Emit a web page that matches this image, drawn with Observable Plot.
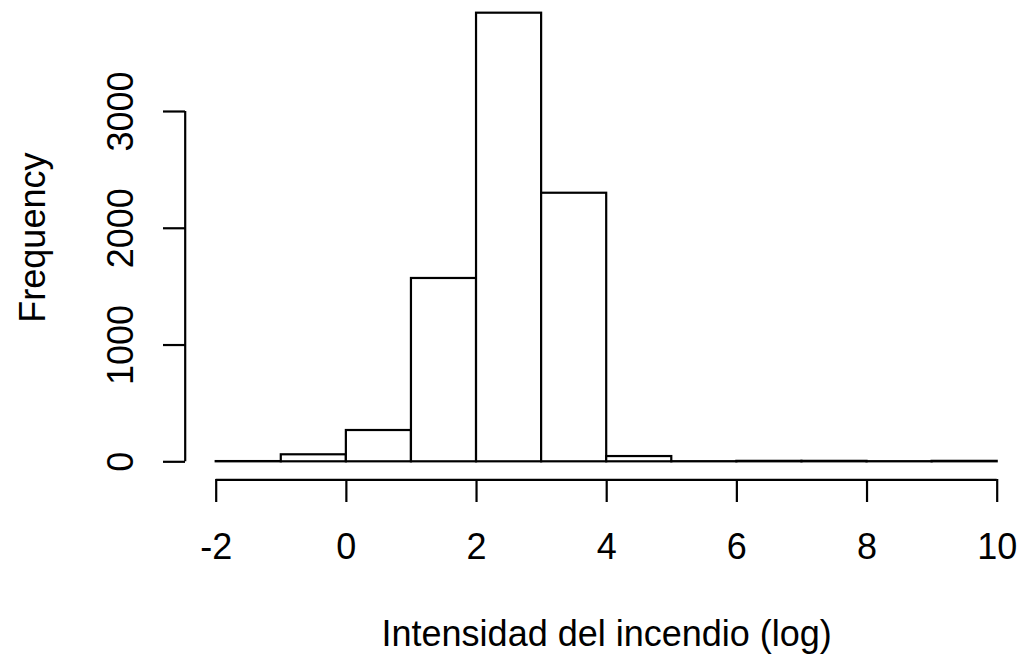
<!DOCTYPE html>
<html>
<head>
<meta charset="utf-8">
<script src="https://cdn.jsdelivr.net/npm/d3@7"></script>
<script src="https://cdn.jsdelivr.net/npm/@observablehq/plot@0.6"></script>
<style>
  html, body { margin: 0; padding: 0; background: #ffffff; }
  #chart svg { display: block; overflow: visible; }
</style>
</head>
<body>
<div id="chart"></div>
<script>
// Histogram bins (log fire intensity) and counts
const binStarts = [-2, -1, 0, 1, 2, 3, 4, 5, 6, 7, 8, 9];
const binEnds   = [-1, 0, 1, 2, 3, 4, 5, 6, 7, 8, 9, 10];
const counts    = [2, 60, 268, 1570, 3842, 2300, 45, 1, 4, 4, 1, 4];
const xTicks = [-2, 0, 2, 4, 6, 8, 10];
const yTicks = [0, 1000, 2000, 3000];
const xTitle = "Intensidad del incendio (log)";
const yTitle = "Frequency";

const bins = binStarts.map((b, i) => ({x1: b, x2: binEnds[i], count: counts[i]}));

const font = "'Liberation Sans', Arial, Helvetica, sans-serif";
const fs = 36;

const chart = Plot.plot({
  width: 1019,
  height: 660,
  marginLeft: 185,
  marginRight: 0,
  marginTop: 0,
  marginBottom: 181,
  style: {fontFamily: font, fontSize: fs + "px", background: "#ffffff", color: "#000"},
  x: {domain: [-2, 10], range: [215.7, 996.7]},
  y: {domain: [0, 3000], range: [461.3, 111]},
  marks: [
    Plot.rectY(bins, {x1: "x1", x2: "x2", y: "count", fill: "#ffffff", stroke: "#000", strokeWidth: 2.2, insetLeft: 0, insetRight: 0}),
    // axis lines (R style, detached from the data region)
    Plot.ruleY([0], {x1: xTicks[0], x2: xTicks[xTicks.length - 1], dy: 18, stroke: "#000", strokeWidth: 2.2}),
    Plot.ruleX([xTicks[0]], {y1: yTicks[0], y2: yTicks[yTicks.length - 1], dx: -31, stroke: "#000", strokeWidth: 2.2}),
    Plot.axisX({ticks: xTicks, tickSize: 23, tickPadding: 31, tickFormat: d => String(d), fontSize: fs, fontFamily: font, strokeWidth: 2.2, label: null, fill: "#000"}),
    Plot.axisY({ticks: yTicks, tickSize: 22, tickPadding: 31, tickRotate: -90, tickFormat: d => String(d), fontSize: fs, fontFamily: font, strokeWidth: 2.2, label: null, fill: "#000"}),
    Plot.text([{label: xTitle, x: 4}], {x: "x", text: "label", frameAnchor: "bottom", dy: 166, lineAnchor: "bottom", textAnchor: "middle", fontSize: fs, fontFamily: font, fill: "#000"}),
    Plot.text([{label: yTitle, y: 1920}], {y: "y", text: "label", frameAnchor: "left", dx: -141, rotate: -90, lineAnchor: "bottom", textAnchor: "middle", fontSize: fs, fontFamily: font, fill: "#000"})
  ]
});

document.getElementById("chart").appendChild(chart);
</script>
</body>
</html>
